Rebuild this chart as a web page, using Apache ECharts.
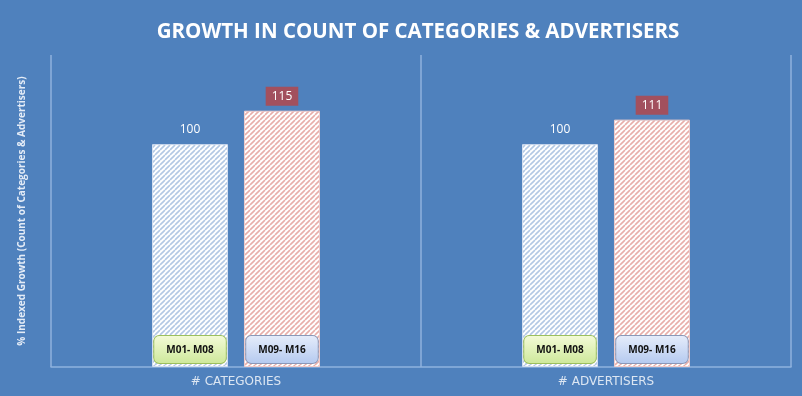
<!DOCTYPE html>
<html>
<head>
<meta charset="utf-8">
<script src="https://cdn.jsdelivr.net/npm/echarts@6/dist/echarts.min.js"></script>
<style>
  html, body { margin: 0; padding: 0; background: #4f81bd; }
  #chart { width: 802px; height: 396px; }
</style>
</head>
<body>
<div id="chart"></div>
<script>
const categories = ['# CATEGORIES', '# ADVERTISERS'];
const periods = ['M01- M08', 'M09- M16'];
const firstPeriod = [100, 100];
const secondPeriod = [115, 111];

// diagonal hatch fill
const hatch = (stripe) => {
  const c = document.createElement('canvas');
  c.width = 5;
  c.height = 5;
  const ctx = c.getContext('2d');
  ctx.fillStyle = '#ffffff';
  ctx.fillRect(0, 0, 5, 5);
  ctx.strokeStyle = stripe;
  ctx.lineWidth = 1.6;
  ctx.beginPath();
  for (let k = -5; k <= 10; k += 5) {
    ctx.moveTo(k, 5);
    ctx.lineTo(k + 5, 0);
  }
  ctx.stroke();
  return { image: c, repeat: 'repeat' };
};

const boxLabel = (text, top, bottom, border) => ({
  show: true,
  position: 'insideBottom',
  distance: 4,
  formatter: text,
  padding: [9, 12, 8, 12],
  color: '#111111',
  fontFamily: 'Open Sans',
  fontWeight: 'bold',
  fontSize: 10,
  backgroundColor: new echarts.graphic.LinearGradient(0, 0, 0, 1, [
    { offset: 0, color: top },
    { offset: 1, color: bottom },
  ]),
  borderColor: border,
  borderWidth: 1,
  borderRadius: 5,
});

const chart = echarts.init(document.getElementById('chart'));

const option = {
  backgroundColor: '#4f81bd',
  animation: false,
  title: {
    text: 'GROWTH IN COUNT OF CATEGORIES & ADVERTISERS',
    left: 413,
    top: 17,
    textAlign: 'center',
    textStyle: {
      color: '#ffffff',
      fontFamily: 'Open Sans',
      fontWeight: 'bold',
      fontSize: 20.5,
    },
  },
  grid: {
    left: 51,
    right: 11,
    top: 55,
    bottom: 29,
  },
  xAxis: [
    {
      type: 'category',
      data: categories,
      axisTick: { show: false },
      axisLine: { lineStyle: { color: '#8fb2de', width: 1.5 } },
      splitLine: { show: true, lineStyle: { color: '#8fb2de', width: 1.5 } },
      axisLabel: {
        color: '#dce6f2',
        fontFamily: 'DejaVu Sans',
        fontSize: 12,
        margin: 9,
      },
    },
    {
      type: 'category',
      data: categories,
      show: false,
    },
  ],
  yAxis: {
    type: 'value',
    min: 0,
    max: 140,
    axisLine: { show: false },
    axisTick: { show: false },
    axisLabel: { show: false },
    splitLine: { show: false },
    name: '% Indexed Growth (Count of Categories & Advertisers)',
    nameLocation: 'middle',
    nameRotate: 90,
    nameGap: 24,
    nameTextStyle: {
      color: '#e4ecf7',
      fontFamily: 'Open Sans',
      fontWeight: 'bold',
      fontSize: 10,
    },
  },
  series: [
    {
      name: periods[0],
      type: 'bar',
      data: firstPeriod,
      barWidth: 76,
      barGap: '21%',
      itemStyle: { color: hatch('#b3c8e4'), borderColor: '#d2def0', borderWidth: 1 },
      label: {
        show: true,
        position: 'top',
        distance: 9,
        color: '#ffffff',
        fontFamily: 'Open Sans',
        fontSize: 12,
      },
    },
    {
      name: periods[1],
      type: 'bar',
      data: secondPeriod,
      barWidth: 76,
      barGap: '21%',
      itemStyle: { color: hatch('#e8aeaa'), borderColor: '#f0cccb', borderWidth: 1 },
      label: {
        show: true,
        position: 'top',
        distance: 5,
        color: '#ffffff',
        fontFamily: 'Open Sans',
        fontSize: 12,
        backgroundColor: '#a2505e',
        padding: [4, 6, 3, 6],
      },
    },
    {
      name: periods[0] + ' tag',
      type: 'bar',
      xAxisIndex: 1,
      data: firstPeriod,
      barWidth: 76,
      barGap: '21%',
      z: 5,
      itemStyle: { color: 'rgba(0,0,0,0)' },
      label: boxLabel(periods[0], '#f4fbd8', '#cde89a', '#9cbf5c'),
    },
    {
      name: periods[1] + ' tag',
      type: 'bar',
      xAxisIndex: 1,
      data: secondPeriod,
      barWidth: 76,
      barGap: '21%',
      z: 5,
      itemStyle: { color: 'rgba(0,0,0,0)' },
      label: boxLabel(periods[1], '#e6edfb', '#b4c9ef', '#8a98b8'),
    },
  ],
};

chart.setOption(option);
window.onresize = () => chart.resize();
</script>
</body>
</html>
